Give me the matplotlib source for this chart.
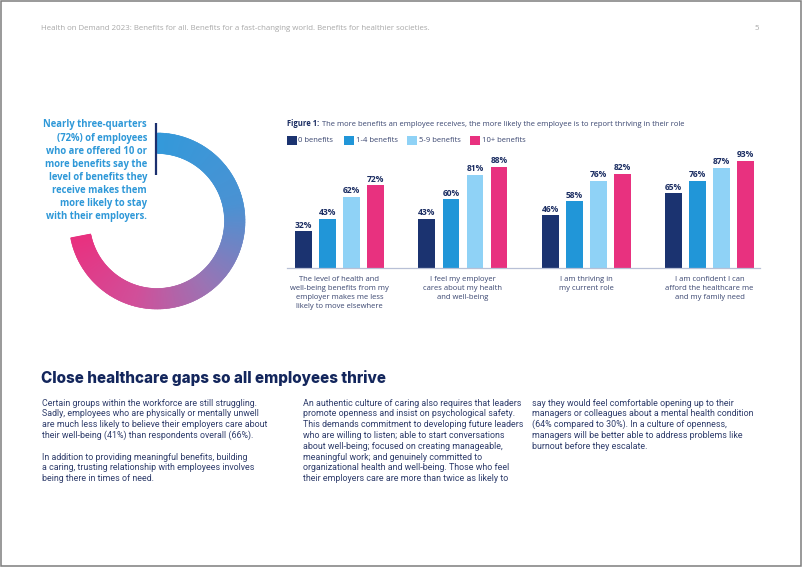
import numpy as np
import matplotlib
matplotlib.use("Agg")
import matplotlib.pyplot as plt
from matplotlib.patches import Wedge, Rectangle
from matplotlib.colors import to_rgb

# ---------------- data ----------------
series = ["0 benefits", "1-4 benefits", "5-9 benefits", "10+ benefits"]
categories = [
    "The level of health and\nwell-being benefits from my\nemployer makes me less\nlikely to move elsewhere",
    "I feel my employer\ncares about my health\nand well-being",
    "I am thriving in\nmy current role",
    "I am confident I can\nafford the healthcare me\nand my family need",
]
vals_0 = [32, 43, 46, 65]
vals_1_4 = [43, 60, 58, 76]
vals_5_9 = [62, 81, 76, 87]
vals_10 = [72, 88, 82, 93]
donut_pct = 72

header = "Health on Demand 2023: Benefits for all. Benefits for a fast-changing world. Benefits for healthier societies."
page_no = "5"
fig_title_bold = "Figure 1:"
fig_title = "The more benefits an employee receives, the more likely the employee is to report thriving in their role"
callout = ["Nearly three-quarters", "(72%) of employees", "who are offered 10 or",
           "more benefits say the", "level of benefits they", "receive makes them",
           "more likely to stay", "with their employers."]
heading = "Close healthcare gaps so all employees thrive"
col1 = ["Certain groups within the workforce are still struggling.",
        "Sadly, employees who are physically or mentally unwell",
        "are much less likely to believe their employers care about",
        "their well-being (41%) than respondents overall (66%).",
        "",
        "In addition to providing meaningful benefits, building",
        "a caring, trusting relationship with employees involves",
        "being there in times of need."]
col2 = ["An authentic culture of caring also requires that leaders",
        "promote openness and insist on psychological safety.",
        "This demands commitment to developing future leaders",
        "who are willing to listen; able to start conversations",
        "about well-being; focused on creating manageable,",
        "meaningful work; and genuinely committed to",
        "organizational health and well-being. Those who feel",
        "their employers care are more than twice as likely to"]
col3 = ["say they would feel comfortable opening up to their",
        "managers or colleagues about a mental health condition",
        "(64% compared to 30%). In a culture of openness,",
        "managers will be better able to address problems like",
        "burnout before they escalate."]

# ---------------- style ----------------
FONT = "Open Sans"
BODY_FONT = "Roboto"
NAVY = "#1b2d62"
TXT = "#3a4670"
BODY = "#2f3d6b"
bar_colors = ["#1b3370", "#2196d8", "#8fd2f6", "#e8317f"]

fig = plt.figure(figsize=(8.02, 5.67), dpi=100)
fig.patch.set_facecolor("white")
renderer = fig.canvas.get_renderer()


def fit(texts, target_px):
    w = max(t.get_window_extent(renderer).width for t in texts)
    k = target_px / w
    for t in texts:
        t.set_fontsize(t.get_fontsize() * k)


# background axes in pixel coordinates
bg = fig.add_axes([0, 0, 1, 1])
bg.set_xlim(0, 802)
bg.set_ylim(567, 0)
bg.axis("off")
bg.set_zorder(0)

# page border
bg.add_patch(Rectangle((0.6, 0.6), 800.2, 565.6, fill=False, edgecolor="#7d7d7d", lw=1.1))

# header
t = bg.text(41, 28.5, header, fontsize=5.5, color="#a8a8a8", family=FONT, va="center", ha="left")
fit([t], 389)
bg.text(757, 28.5, page_no, fontsize=t.get_fontsize(), color="#a8a8a8", family=FONT, va="center", ha="center")

# donut with gradient
cx, cy, r_out, ring_w = 157, 221, 88, 20.5
stops_f = [0.0, 0.3, 0.55, 0.75, 1.0]
stops_c = [to_rgb(c) for c in ["#3399da", "#4a92d3", "#9a74b4", "#d0509a", "#e9307f"]]
sweep = donut_pct / 100 * 360
n = 260
edges = np.linspace(0, sweep, n + 1)
for i in range(n):
    f = (i + 0.5) / n
    col = [np.interp(f, stops_f, [c[k] for c in stops_c]) for k in range(3)]
    th1 = -90 + edges[i]
    th2 = -90 + edges[i + 1] + (0.6 if i < n - 1 else 0)
    bg.add_patch(Wedge((cx, cy), r_out, th1, th2, width=ring_w, facecolor=col,
                       edgecolor=col if i < n - 1 else "none", lw=0.4))

# callout line and text
bg.plot([156, 156], [123, 175], color="#1b2f6e", lw=1.6, solid_capstyle="butt")
ct = [bg.text(147, 125 + i * 13.1, s, ha="right", va="center", fontsize=7, fontweight="bold",
              color="#2e98d8", family=FONT) for i, s in enumerate(callout)]
fit(ct, 104)

# figure title
tb = bg.text(287, 124, fig_title_bold, fontsize=6, fontweight="bold", color=NAVY, family=FONT, va="center")
wb = tb.get_window_extent(renderer).width
tr = bg.text(287 + wb + 2.5, 124, fig_title, fontsize=6, color=TXT, family=FONT, va="center")
wr = tr.get_window_extent(renderer).width
k = (400 - 2.5) / (wb + wr)
tb.set_fontsize(6 * k)
tr.set_fontsize(6 * k)
tr.set_x(287 + tb.get_window_extent(renderer).width + 2.5)

# legend
leg_x = [287, 344, 407.3, 470]
lts = []
for lx, name, col in zip(leg_x, series, bar_colors):
    bg.add_patch(Rectangle((lx, 135.5), 9.5, 9.5, facecolor=col, edgecolor="none"))
    lts.append(bg.text(lx + 11.5, 140.3, name, fontsize=6, color=TXT, family=FONT, va="center"))
fit([lts[0]], 35)
for l in lts[1:]:
    l.set_fontsize(lts[0].get_fontsize())

# bar chart
ax = fig.add_axes([287 / 802, 1 - 268.3 / 567, 473 / 802, 115.5 / 567])
ax.set_zorder(1)
ax.patch.set_alpha(0)
x = np.arange(len(categories))
step, width = 0.195, 0.135
for i, (vals, col) in enumerate(zip([vals_0, vals_1_4, vals_5_9, vals_10], bar_colors)):
    bars = ax.bar(x + (i - 1.5) * step, vals, width, color=col, label=series[i])
    ax.bar_label(bars, labels=[f"{v}%" for v in vals], padding=1.0, fontsize=6.1,
                 fontweight="bold", color=NAVY, family=FONT)
ax.set_xlim(-0.4254, 3.408)
ax.set_ylim(0, 100)
for s in ["top", "right", "left"]:
    ax.spines[s].set_visible(False)
ax.spines["bottom"].set_color("#b8c0d6")
ax.spines["bottom"].set_linewidth(0.9)
ax.set_yticks([])
ax.set_xticks([])
cat_texts = []
for i, cat in enumerate(categories):
    for j, line in enumerate(cat.split("\n")):
        a = ax.annotate(line, xy=(x[i], 0), xycoords=("data", "axes fraction"),
                        xytext=(0, -(11.2 + j * 8.9) * 0.72), textcoords="offset points",
                        ha="center", va="center", fontsize=5.3, color=TXT, family=FONT)
        cat_texts.append((i, j, a))
ref = [a for i, j, a in cat_texts if i == 0 and j == 1][0]
fit([ref], 100)
for _, _, a in cat_texts:
    a.set_fontsize(ref.get_fontsize())

# heading
h = bg.text(41, 378, heading, fontsize=12, fontweight=800, color="#13265c", family="Inter", va="center")
fit([h], 344)

# body columns
pitch = 10.8
body = []
for cx0, col in [(41.5, col1), (303, col2), (532, col3)]:
    for i, s in enumerate(col):
        if s:
            body.append(bg.text(cx0, 403 + i * pitch, s, fontsize=6.5, color=BODY,
                                family=BODY_FONT, va="center"))
fit([body[2]], 224)
for b in body:
    b.set_fontsize(body[2].get_fontsize())

fig.savefig("out.png", dpi=100, facecolor="white")
